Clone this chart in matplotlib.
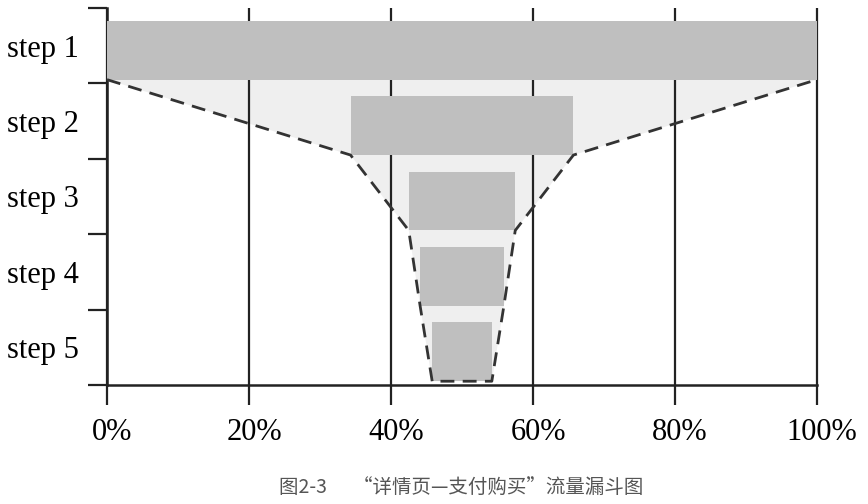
import numpy as np
import matplotlib.pyplot as plt
from matplotlib.transforms import ScaledTranslation

# funnel data (share of visitors reaching each step, %)
steps = ["step 1", "step 2", "step 3", "step 4", "step 5"]
widths = [100, 31.4, 15.0, 11.8, 8.4]
xticks = [0, 20, 40, 60, 80, 100]
xlabels = ["0%", "20%", "40%", "60%", "80%", "100%"]
caption = "图2-3      “详情页—支付购买”流量漏斗图"

bar_color = "#bfbfbf"
fill_color = "#efefef"
line_color = "#222222"

fig = plt.figure(figsize=(8.68, 5.04), dpi=100)
ax = fig.add_axes([107 / 868, 1 - 385 / 504, 710 / 868, 377 / 504])

y = np.arange(len(steps))
w = np.array(widths)
left = 50 - w / 2
right = 50 + w / 2
off = 0.06
h = 0.78
bottom = y + off + h / 2

# light funnel shape behind the bars
px = np.concatenate([left, right[::-1]])
py = np.concatenate([bottom, bottom[::-1]])
ax.fill(px, py, color=fill_color, zorder=1, lw=0)
ax.plot(px, py, color="#333333", lw=2, ls=(0, (5, 3)), zorder=4,
        clip_on=False, solid_capstyle="butt")

ax.vlines(xticks, -0.5, 4.5, color=line_color, lw=1.6, zorder=2, clip_on=False)
ax.barh(y + off, w, left=left, height=h, color=bar_color, zorder=3)

ax.set_xlim(0, 100)
ax.set_ylim(4.5, -0.5)
for s in ["top", "right"]:
    ax.spines[s].set_visible(False)
for s in ["left", "bottom"]:
    ax.spines[s].set_linewidth(1.8)
    ax.spines[s].set_color(line_color)

ax.set_yticks(np.arange(-0.5, 5, 1))
ax.set_yticklabels([])
ax.set_yticks(y, minor=True)
ax.set_yticklabels(steps, minor=True, fontsize=22, family="Liberation Serif")
ax.tick_params(axis="y", which="major", direction="out", length=14, width=1.6,
               color=line_color)
ax.tick_params(axis="y", which="minor", length=0, pad=20)

ax.set_xticks(xticks)
ax.set_xticklabels(xlabels, fontsize=22, family="Liberation Serif")
ax.tick_params(axis="x", direction="out", length=14.5, width=1.6,
               color=line_color, pad=9)
for lab in ax.get_xticklabels():
    lab.set_transform(lab.get_transform() + ScaledTranslation(5 / 100, 0, fig.dpi_scale_trans))

fig.text(0.531, 1 - 487 / 504, caption, ha="center", va="center", fontsize=14,
         color="#555555", family=["Noto Sans CJK SC", "DejaVu Sans"])

fig.savefig("out.png", dpi=100)
